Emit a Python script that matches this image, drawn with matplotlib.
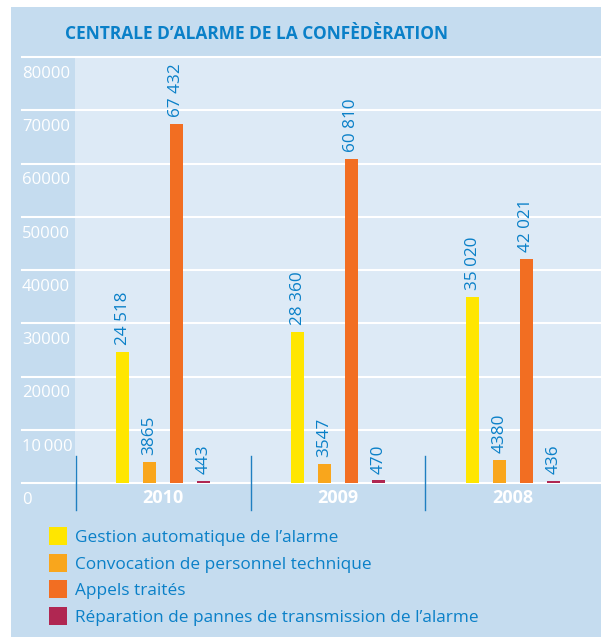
import numpy as np
import matplotlib
matplotlib.use('Agg')
import matplotlib.pyplot as plt
from matplotlib.patches import Rectangle

plt.rcParams['font.family'] = ['Open Sans', 'DejaVu Sans']

# data
years = ['2010', '2009', '2008']
series = ['Gestion automatique de l\u2019alarme',
          'Convocation de personnel technique',
          'Appels traités',
          'Réparation de pannes de transmission de l\u2019alarme']
gestion = [24518, 28360, 35020]
convocation = [3865, 3547, 4380]
appels = [67432, 60810, 42021]
reparation = [443, 470, 436]
values = [gestion, convocation, appels, reparation]
colors = ['#ffe600', '#f9a61c', '#f26e22', '#b02752']
yticks = [0, 10000, 20000, 30000, 40000, 50000, 60000, 70000, 80000]
ytick_labels = ['0', '10\u2009000', '20000', '30000', '40000', '50000',
                '60000', '70000', '80000']
title = 'CENTRALE D\u2019ALARME DE LA CONFÈDÈRATION'

W, H = 601, 637
outer_bg = '#c5dcef'
inner_bg = '#ddeaf6'
blue = '#0a80c8'

fig = plt.figure(figsize=(W / 100, H / 100), dpi=100, facecolor='white')

# outer light blue panel
fig.patches.append(Rectangle((11 / W, 0), (W - 11) / W, (H - 7) / H,
                             transform=fig.transFigure, facecolor=outer_bg,
                             edgecolor='none', zorder=-5))

ax_left, ax_right, ax_top, ax_bot = 75, 601, 57, 483
ax = fig.add_axes([ax_left / W, 1 - ax_bot / H, (ax_right - ax_left) / W,
                   (ax_bot - ax_top) / H])
ax.set_facecolor(inner_bg)
for s in ax.spines.values():
    s.set_visible(False)
ax.set_xticks([])
ax.set_yticks([])
ax.set_ylim(0, 80000)
ax.set_xlim(-0.503, 2.503)

x = np.arange(len(years))
step = 0.154
width = 0.075

# gridlines extending into the left strip
xmin_frac = (22 - ax_left) / (ax_right - ax_left)
for t in yticks:
    ax.axhline(t, xmin=xmin_frac, xmax=1, color='white', lw=1.5,
               clip_on=False, zorder=1)

for k, (vals, col) in enumerate(zip(values, colors)):
    xs = x + (k - 1.5) * step
    ax.bar(xs, vals, width=width, color=col, zorder=2)
    for xi, v in zip(xs, vals):
        lab = f'{v:,}'.replace(',', ' ') if v >= 10000 else str(v)
        ax.annotate(lab, xy=(xi, v), xytext=(0, 5), textcoords='offset points',
                    rotation=90, ha='center', va='bottom', color=blue,
                    fontsize=12.3, annotation_clip=False)

# y labels below each gridline
ytrans = ax.get_yaxis_transform()
for t, lab in zip(yticks, ytick_labels):
    ax.annotate(lab, xy=(xmin_frac, t), xycoords=ytrans, xytext=(0, -15),
                textcoords='offset points', ha='left', va='baseline',
                color='white', fontsize=12, annotation_clip=False)

# group separators
sep_h = 27 / (ax_bot - ax_top) * 80000
for i in range(len(years)):
    ax.plot([i - 0.5, i - 0.5], [-sep_h, sep_h], color='#1f7fc1', lw=1,
            clip_on=False, zorder=3)

# year labels
for xi, yr in zip(x, years):
    ax.annotate(yr, xy=(xi, 0), xytext=(0, -14.4), textcoords='offset points',
                ha='center', va='baseline', color='white', fontsize=13,
                fontweight='bold', annotation_clip=False)

fig.text(65 / W, 1 - 39 / H, title, ha='left', va='baseline', color=blue,
         fontsize=12.5, fontweight='bold')

# legend
for k, (name, col) in enumerate(zip(series, colors)):
    cy = 536 + k * 26.6
    fig.patches.append(Rectangle((49 / W, 1 - (cy + 9) / H), 18 / W, 18 / H,
                                 transform=fig.transFigure, facecolor=col,
                                 edgecolor='none', zorder=2))
    fig.text(75 / W, 1 - (cy + 6) / H, name, ha='left', va='baseline',
             color=blue, fontsize=12.4)

fig.savefig('out.png', dpi=100)
